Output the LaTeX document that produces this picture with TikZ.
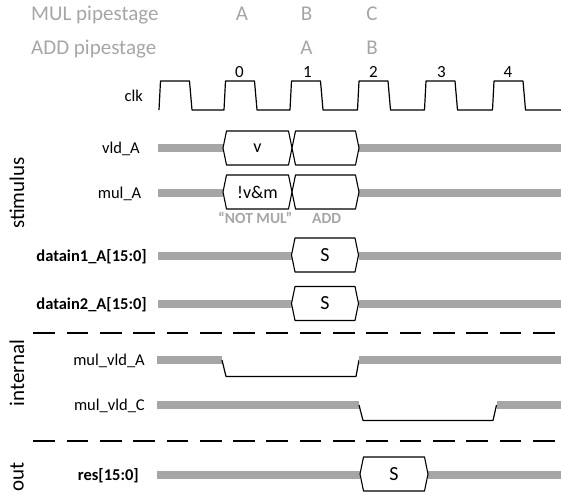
\documentclass[tikz,border=0pt]{standalone}
\usepackage{fontspec}
\setmainfont{Carlito}
\definecolor{bargray}{RGB}{166,166,166}
\definecolor{stagegray}{RGB}{166,166,166}
\newcommand\fsz[1]{\fontsize{#1}{#1}\selectfont}
% bus value box: name, left x, right x, centre y, text
\newcommand\busbox[5]{%
  \draw[busval] (#2,#4) -- ({#2+3.5},{#4-17}) -- ({#3-3.5},{#4-17}) -- (#3,#4)
    -- ({#3-3.5},{#4+17}) -- ({#2+3.5},{#4+17}) -- cycle;
  \node[val] (#1) at ({(#2+#3)/2},#4) {#5};}
\begin{document}
\begin{tikzpicture}[x=1pt,y=-1pt,
  level/.style={draw=bargray,line width=7.5pt},
  edge/.style={draw=black,line width=1.2pt,line join=round},
  busval/.style={draw=black,fill=white,line width=1.1pt,line join=round},
  sepline/.style={draw=black,line width=1.2pt,dash pattern=on 21.7pt off 11.6pt},
  siglabel/.style={anchor=base east,inner sep=0pt,font=\fsz{16.5}},
  buslabel/.style={anchor=base east,inner sep=0pt,font=\fsz{16.5}\bfseries},
  group/.style={rotate=90,inner sep=0pt,font=\fsz{21}},
  stage/.style={anchor=base,inner sep=0pt,text=stagegray,font=\fsz{21}},
  cyc/.style={anchor=base,inner sep=0pt,font=\fsz{17}},
  val/.style={inner sep=0pt,font=\fsz{18}},
  note/.style={anchor=base west,inner sep=0pt,text=stagegray,font=\fsz{15.5}\bfseries},
]
\useasboundingbox (0,0) rectangle (561,497);

% pipeline stage rows
\node[stage,anchor=base west] (mulstage) at (31,21) {MUL pipestage};
\node[stage,anchor=base west] (addstage) at (31,55) {ADD pipestage};
\node[stage] (mA) at (242,21) {A};
\node[stage] (mB) at (306.5,21) {B};
\node[stage] (mC) at (372,21) {C};
\node[stage] (aA) at (306.5,55) {A};
\node[stage] (aB) at (372,55) {B};

% cycle numbers
\node[cyc] (c0) at (239.5,77.3) {0};
\node[cyc] (c1) at (307.5,77.3) {1};
\node[cyc] (c2) at (373.5,77.3) {2};
\node[cyc] (c3) at (441.5,77.3) {3};
\node[cyc] (c4) at (508,77.3) {4};

% clock
\node[siglabel] (clk) at (143,102) {clk};
\draw[edge] (159,110)
  \foreach \t in {159,224,290,357.5,424.5,492.5} {
    -- (\t,110) -- ({\t+1.5},81) -- ({\t+30.5},81) -- ({\t+33},110) }
  -- (561,110);

% group titles
\node[group] (gstim) at (17,193) {stimulus};
\node[group] (gint) at (17,373) {internal};
\node[group] (gout) at (17,477) {out};

% stimulus signals
\node[siglabel] (lvld) at (140,153.5) {vld\_A};
\draw[level] (158,148) -- (223,148);
\draw[level] (359,148) -- (561,148);
\busbox{vldv}{223}{292}{148}{v}
\busbox{vldn}{292}{359}{148}{}

\node[siglabel] (lmul) at (141.5,198.5) {mul\_A};
\draw[level] (158,193) -- (223,193);
\draw[level] (359,193) -- (561,193);
\busbox{mulv}{223}{292}{192}{!v\&m}
\busbox{muln}{292}{359}{192}{}
\node[note] (notmul) at (218,223.5) {“NOT MUL”};
\node[note] (addop) at (312,223.5) {ADD};

\node[buslabel] (ld1) at (147,261.5) {datain1\_A[15:0]};
\draw[level] (158,256) -- (291.5,256);
\draw[level] (358.5,256) -- (561,256);
\busbox{d1}{291.5}{358.5}{255}{\fsz{20}S}

\node[buslabel] (ld2) at (147,309.5) {datain2\_A[15:0]};
\draw[level] (158,304) -- (291.5,304);
\draw[level] (358.5,304) -- (561,304);
\busbox{d2}{291.5}{358.5}{303.5}{\fsz{20}S}

% section separators
\coordinate (s1l) at (33.3,333);
\coordinate (s1r) at (561,333);
\coordinate (s2l) at (33.3,441);
\coordinate (s2r) at (561,441);
\draw[sepline] (s1l) -- (s1r);
\draw[sepline] (s2l) -- (s2r);

% internal signals
\node[siglabel] (lmv) at (145,365.5) {mul\_vld\_A};
\draw[level] (157,360) -- (222,360);
\draw[edge] (222,360) -- (226,376.5) -- (356,376.5) -- (359,360);
\draw[level] (359,360) -- (561,360);

\node[siglabel] (lmc) at (145,410.5) {mul\_vld\_C};
\draw[level] (157,405) -- (359,405);
\draw[edge] (359,405) -- (363,420.5) -- (493,420.5) -- (496.5,405);
\draw[level] (496.5,405) -- (561,405);

% output
\node[buslabel] (lres) at (139,480.5) {res[15:0]};
\draw[level] (157,475) -- (360,475);
\draw[level] (428,475) -- (561,475);
\busbox{r}{360}{428}{474}{\fsz{20}S}
\end{tikzpicture}
\end{document}
